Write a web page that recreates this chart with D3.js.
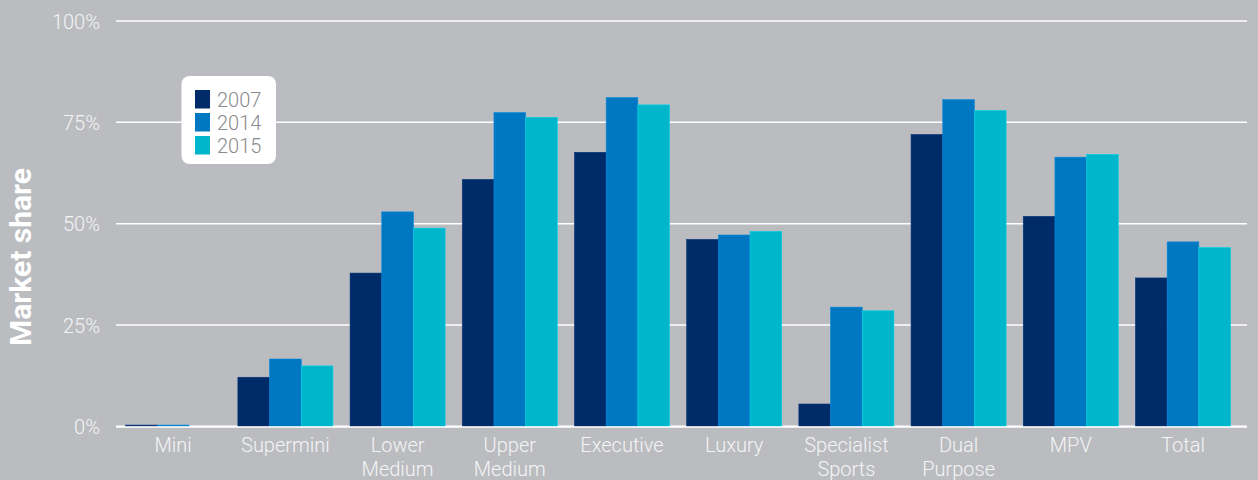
<!DOCTYPE html>
<html>
<head>
<meta charset="utf-8">
<script src="https://cdn.jsdelivr.net/npm/d3@7"></script>
<style>
  html, body { margin: 0; padding: 0; background: #bbbcc0; }
  svg { display: block; }
  text { font-family: Roboto, "Noto Sans", sans-serif; }
</style>
</head>
<body>
<svg id="chart" width="1258" height="480"></svg>
<script>
// Market share by segment, three survey years
const categories = ["Mini", "Supermini", "Lower\nMedium", "Upper\nMedium", "Executive", "Luxury", "Specialist\nSports", "Dual\nPurpose", "MPV", "Total"];
const years = ["2007", "2014", "2015"];
const share2007 = [0.3, 12.1, 37.8, 60.9, 67.6, 46.1, 5.5, 72.0, 51.8, 36.6];
const share2014 = [0.3, 16.6, 52.9, 77.4, 81.1, 47.2, 29.4, 80.6, 66.4, 45.5];
const share2015 = [0.0, 14.9, 48.9, 76.2, 79.3, 48.1, 28.5, 77.9, 67.1, 44.1];
const yTicks = [0, 25, 50, 75, 100];
const colors = ["#002b69", "#0077c1", "#00b6cb"];

const series = [share2007, share2014, share2015];

const svg = d3.select("#chart");
const plotLeft = 116, plotRight = 1247;

const x = d3.scaleBand()
  .domain(categories)
  .range([117.1, 1239.1])
  .paddingInner(0.153)
  .paddingOuter(0.0766);

const xSub = d3.scaleBand()
  .domain(years)
  .range([0, x.bandwidth()]);

const y = d3.scaleLinear()
  .domain([0, 100])
  .range([426.3, 21]);

// horizontal gridlines
svg.append("g")
  .selectAll("line")
  .data(yTicks)
  .join("line")
  .attr("x1", plotLeft)
  .attr("x2", plotRight)
  .attr("y1", d => y(d))
  .attr("y2", d => y(d))
  .attr("stroke", "#ffffff")
  .attr("stroke-width", 1.5);

// y tick labels
svg.append("g")
  .selectAll("text")
  .data(yTicks)
  .join("text")
  .attr("x", 100)
  .attr("y", d => y(d))
  .attr("dy", "0.38em")
  .attr("text-anchor", "end")
  .attr("fill", "#f4f4f5")
  .attr("font-size", 20)
  .attr("font-weight", 300)
  .text(d => d + "%");

// grouped bars
const groups = svg.append("g")
  .selectAll("g")
  .data(categories.map((c, i) => ({ c, i })))
  .join("g")
  .attr("transform", d => `translate(${x(d.c)},0)`);

groups.selectAll("rect")
  .data(d => years.map((yr, k) => ({ yr, k, v: series[k][d.i] })))
  .join("rect")
  .attr("x", d => xSub(d.yr))
  .attr("width", xSub.bandwidth())
  .attr("y", d => y(d.v))
  .attr("height", d => y(0) - y(d.v))
  .attr("fill", d => colors[d.k])
  .attr("stroke", d => d3.color(colors[d.k]).brighter(0.4))
  .attr("stroke-width", 0.6);

// baseline over bar bottoms
svg.append("line")
  .attr("x1", plotLeft).attr("x2", plotRight)
  .attr("y1", y(0) + 0.8).attr("y2", y(0) + 0.8)
  .attr("stroke", "#ffffff").attr("stroke-width", 1.5);

// category labels (multi-line)
const xl = svg.append("g")
  .selectAll("text")
  .data(categories)
  .join("text")
  .attr("x", d => x(d) + x.bandwidth() / 2)
  .attr("y", 452)
  .attr("text-anchor", "middle")
  .attr("fill", "#f4f4f5")
  .attr("font-size", 20)
  .attr("font-weight", 300);
xl.each(function (d) {
  const lines = d.split("\n");
  const t = d3.select(this);
  const cx = x(d) + x.bandwidth() / 2;
  lines.forEach((ln, j) => {
    t.append("tspan").attr("x", cx).attr("dy", j === 0 ? 0 : 23.5).text(ln);
  });
});

// y-axis title
svg.append("text")
  .attr("transform", "translate(31,257) rotate(-90)")
  .attr("text-anchor", "middle")
  .attr("fill", "#ffffff")
  .attr("font-size", 30)
  .attr("font-weight", 700)
  .text("Market share");

// legend
const legend = svg.append("g");
legend.append("rect")
  .attr("x", 181.5).attr("y", 76)
  .attr("width", 94.5).attr("height", 88)
  .attr("rx", 8).attr("ry", 8)
  .attr("fill", "#ffffff");
years.forEach((yr, k) => {
  const top = 90 + k * 23;
  legend.append("rect")
    .attr("x", 195).attr("y", top)
    .attr("width", 15).attr("height", 18.5)
    .attr("fill", colors[k]);
  legend.append("text")
    .attr("x", 217).attr("y", top + 17)
    .attr("fill", "#8a8b8e")
    .attr("font-size", 20)
    .attr("font-weight", 300)
    .text(yr);
});
</script>
</body>
</html>
